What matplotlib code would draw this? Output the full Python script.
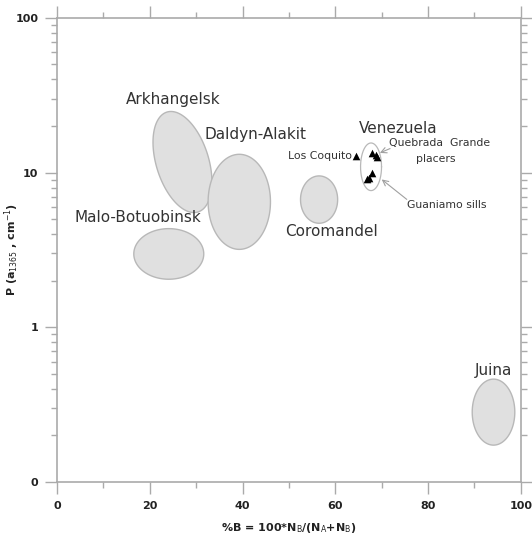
import numpy as np
import matplotlib
matplotlib.use("Agg")
from matplotlib import pyplot as plt
from matplotlib.ticker import FixedLocator, FixedFormatter

# 金刚石产地区域 (椭圆): 中心 %B, 中心 P, 半轴(按坐标轴长度的比例), 倾角
names = ["Arkhangelsk", "Daldyn-Alakit", "Malo-Botuobinsk", "Coromandel", "Juina"]
cx = [27.05, 39.3, 24.1, 56.5, 94.1]
cy = [11.7, 6.47, 2.98, 6.69, 0.283]
semi_a = [0.1127, 0.0672, 0.0754, 0.040, 0.0459]
semi_b = [0.0565, 0.1024, 0.0545, 0.051, 0.0711]
angle = [107.3, 0, 0, 0, 0]

# 标签位置
lab_x = [25.0, 42.9, 17.5, 59.1, 94.0]
lab_y = [29.7, 17.5, 5.14, 4.19, 0.525]

# Venezuela 样品
los_x = [64.4]
los_y = [12.8]
queb_x = [67.8, 68.75, 69.0]
queb_y = [13.4, 12.9, 12.7]
guan_x = [68.0, 66.9, 67.3]
guan_y = [9.98, 9.03, 9.27]
ven_ell = (67.7, 10.9, 0.0226, 0.0513)

plt.rcParams["font.family"] = ["DejaVu Sans"]
fig = plt.figure(figsize=(5.32, 5.41), dpi=100)
ax = fig.add_axes([0.1071, 0.109, 0.872, 0.858])
ax.set_yscale("log")
ax.set_xlim(0, 100)
ax.set_ylim(0.1, 100)

t = np.linspace(0, 2 * np.pi, 240)


def ellipse_pts(x0, y0, a, b, ang):
    # a, b 为轴长比例, 在屏幕比例空间里旋转
    u = a * np.cos(t)
    v = b * np.sin(t)
    r = np.deg2rad(ang)
    uu = u * np.cos(r) - v * np.sin(r)
    vv = u * np.sin(r) + v * np.cos(r)
    xs = x0 + uu * 100.0
    ys = 10 ** (np.log10(y0) + vv * 3.0)
    return xs, ys


for i in range(len(names)):
    xs, ys = ellipse_pts(cx[i], cy[i], semi_a[i], semi_b[i], angle[i])
    ax.fill(xs, ys, facecolor="#e0e0e0", edgecolor="#b8b8b8", lw=1.0, zorder=2)
    ax.text(lab_x[i], lab_y[i], names[i], fontsize=11, color="#333333",
            ha="center", va="center", zorder=5)

xs, ys = ellipse_pts(ven_ell[0], ven_ell[1], ven_ell[2], ven_ell[3], 0)
ax.plot(xs, ys, color="#b8b8b8", lw=0.9, zorder=3)

ax.scatter(los_x + queb_x + guan_x, los_y + queb_y + guan_y, marker="^", s=30,
           color="black", zorder=4, linewidths=0)

ax.text(73.6, 19.3, "Venezuela", fontsize=11, color="#333333", ha="center", va="center")
ax.text(56.8, 12.8, "Los Coquito", fontsize=7.8, color="#333333", ha="center", va="center")
ax.text(82.5, 15.6, "Quebrada  Grande", fontsize=7.8, color="#333333", ha="center", va="center")
ax.text(81.6, 12.2, "placers", fontsize=7.8, color="#333333", ha="center", va="center")
ax.text(84.1, 6.14, "Guaniamo sills", fontsize=7.8, color="#333333", ha="center", va="center")
ax.annotate("", xy=(69.6, 13.4), xytext=(71.8, 14.3),
            arrowprops=dict(arrowstyle="->", color="#a0a0a0", lw=0.8, shrinkA=0, shrinkB=0))
ax.annotate("", xy=(70.0, 9.03), xytext=(75.4, 6.71),
            arrowprops=dict(arrowstyle="->", color="#a0a0a0", lw=0.8, shrinkA=0, shrinkB=0))

# 坐标轴
ax.set_xticks([0, 20, 40, 60, 80, 100])
ax.set_xticks([10, 30, 50, 70, 90], minor=True)
ax.yaxis.set_major_locator(FixedLocator([0.1, 1, 10, 100]))
ax.yaxis.set_major_formatter(FixedFormatter(["0", "1", "10", "100"]))
ax.yaxis.set_minor_locator(FixedLocator([m * d for d in [0.1, 1, 10] for m in range(2, 10)]))
ax.yaxis.set_minor_formatter(FixedFormatter([]))
ax.tick_params(which="both", direction="out", color="#aaaaaa", top=True, right=True,
               labelsize=8, labelcolor="#222222", width=1.0, pad=5)
ax.tick_params(which="major", length=8.5)
ax.tick_params(which="minor", length=4)
for lbl in ax.get_xticklabels() + ax.get_yticklabels():
    lbl.set_fontweight("bold")
for sp in ax.spines.values():
    sp.set_color("#aaaaaa")
    sp.set_linewidth(1.2)

ax.set_xlabel(r"%B = 100*N$_{\mathrm{B}}$/(N$_{\mathrm{A}}$+N$_{\mathrm{B}}$)", fontsize=8,
              fontweight="bold", color="#222222")
ax.xaxis.set_label_coords(0.5, -0.084)
ax.set_ylabel(r"P (a$_{\mathrm{1365}}$ , cm$^{\mathrm{-1}}$)", fontsize=8,
              fontweight="bold", color="#222222")
ax.yaxis.set_label_coords(-0.078, 0.5)

plt.savefig("out.png", dpi=100)
